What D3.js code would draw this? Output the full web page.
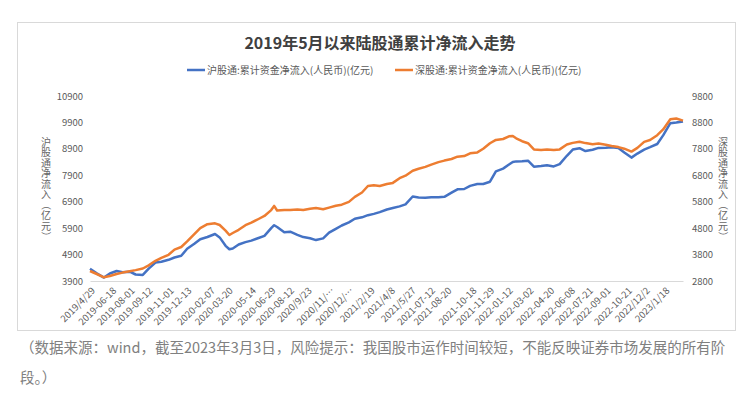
<!DOCTYPE html>
<html>
<head>
  <meta charset="utf-8"/>
  <title>陆股通累计净流入</title>
  <script src="https://cdn.jsdelivr.net/npm/d3@7"></script>
<style>
body { margin: 0; background: #fff; }
svg text { font-family: "Noto Sans CJK SC", "Noto Sans", sans-serif; }
.tick-label { fill: #595959; font-size: 9.5px; }
.axis-title { fill: #666; font-size: 10px; }
.caption { fill: #808080; font-size: 14.5px; }
</style>
</head>
<body>
<svg id="chart" width="745" height="393"></svg>
<script>
// sampled (semi-monthly + turning points) from the picture
var dates = [
  "2019-04-29","2019-05-15","2019-06-01","2019-06-15","2019-07-01","2019-07-15","2019-08-01","2019-08-15",
  "2019-09-01","2019-09-15","2019-10-01","2019-10-15","2019-11-01","2019-11-15","2019-12-01","2019-12-15",
  "2020-01-01","2020-01-15","2020-02-01","2020-02-19","2020-03-01","2020-03-15","2020-03-24","2020-04-01",
  "2020-04-15","2020-05-01","2020-05-15","2020-06-01","2020-06-15","2020-07-01","2020-07-08","2020-07-15",
  "2020-08-01","2020-08-15","2020-09-01","2020-09-15","2020-10-01","2020-10-15","2020-11-01","2020-11-15",
  "2020-12-01","2020-12-15","2021-01-01","2021-01-15","2021-02-01","2021-02-15","2021-03-01","2021-03-15",
  "2021-04-01","2021-04-15","2021-05-01","2021-05-15","2021-06-01","2021-06-15","2021-07-01","2021-07-15",
  "2021-08-01","2021-08-15","2021-09-01","2021-09-15","2021-10-01","2021-10-15","2021-11-01","2021-11-15",
  "2021-12-01","2021-12-15","2022-01-01","2022-01-15","2022-01-24","2022-02-01","2022-02-15","2022-03-01",
  "2022-03-15","2022-04-01","2022-04-15","2022-05-01","2022-05-15","2022-06-01","2022-06-15","2022-07-01",
  "2022-07-15","2022-08-01","2022-08-15","2022-09-01","2022-09-15","2022-10-01","2022-10-15","2022-11-01",
  "2022-11-15","2022-12-01","2022-12-15","2023-01-01","2023-01-15","2023-02-01","2023-02-15","2023-03-03"
];
var shValues = [
  4362,4191,4029,4184,4278,4233,4252,4146, 4131,4369,4596,4630,4702,4789,4854,5118,
  5308,5482,5565,5678,5550,5232,5100,5130, 5281,5372,5429,5527,5610,5898,6010,5943,
  5743,5766,5648,5561,5516,5448,5512,5728, 5875,6000,6121,6254,6310,6390,6439,6507,
  6606,6662,6723,6802,7097,7063,7052,7067, 7067,7086,7245,7370,7381,7499,7570,7570,
  7657,8047,8153,8305,8400,8426,8433,8452, 8225,8248,8282,8236,8320,8637,8872,8925,
  8815,8865,8936,8944,8959,8929,8762,8569, 8721,8872,8963,9084,9409,9871,9898,9935
];
var szValues = [
  3178,3065,2940,2989,3065,3118,3167,3212, 3273,3394,3564,3678,3791,3988,4087,4298,
  4578,4802,4949,4983,4919,4707,4541,4616, 4737,4911,5010,5146,5260,5483,5640,5468,
  5487,5487,5509,5487,5536,5562,5513,5577, 5646,5687,5793,5982,6149,6395,6425,6395,
  6470,6512,6690,6785,6974,7046,7117,7205, 7299,7356,7416,7503,7526,7632,7666,7802,
  8011,8139,8173,8275,8287,8200,8090,8014, 7780,7757,7780,7761,7780,7965,8026,8071,
  8018,7973,7999,7954,7908,7867,7806,7696, 7836,8064,8135,8317,8536,8919,8949,8866
];
var leftTicks = [3900, 4900, 5900, 6900, 7900, 8900, 9900, 10900];
var rightTicks = [2800, 3800, 4800, 5800, 6800, 7800, 8800, 9800];
var xTickDates = [
  "2019-04-29","2019-06-18","2019-08-01","2019-09-12","2019-11-01","2019-12-13","2020-02-07","2020-03-20",
  "2020-05-14","2020-06-29","2020-08-12","2020-09-23","2020-11-16","2020-12-31","2021-02-19","2021-04-08",
  "2021-05-27","2021-07-12","2021-08-20","2021-10-18","2021-11-29","2022-01-12","2022-03-02","2022-04-20",
  "2022-06-08","2022-07-21","2022-09-01","2022-10-21","2022-12-02","2023-01-18"
];
var xTickLabels = [
  "2019/4/29","2019-06-18","2019-08-01","2019-09-12","2019-11-01","2019-12-13","2020-02-07","2020-03-20",
  "2020-05-14","2020-06-29","2020-08-12","2020/9/23","2020/11/…","2020/12/…","2021/2/19","2021/4/8",
  "2021/5/27","2021-07-12","2021-08-20","2021-10-18","2021-11-29","2022-01-12","2022-03-02","2022-04-20",
  "2022-06-08","2022-07-21","2022-09-01","2022-10-21","2022/12/2","2023/1/18"
];
var seriesNames = ["沪股通:累计资金净流入(人民币)(亿元)", "深股通:累计资金净流入(人民币)(亿元)"];
var axisTitles = ["沪股通净流入（亿元）", "深股通净流入（亿元）"];
var colors = ["#4472c4", "#ed7d31"];

var parse = d3.timeParse("%Y-%m-%d");
var svg = d3.select("#chart");

var plotLeft = 90, plotRight = 683, plotTop = 96, plotBottom = 281;

var x = d3.scaleTime()
    .domain([parse("2019-04-29"), parse("2023-03-03")])
    .range([plotLeft, plotRight]);
var yL = d3.scaleLinear().domain([3900, 10900]).range([plotBottom, plotTop]);
var yR = d3.scaleLinear().domain([2800, 9800]).range([plotBottom, plotTop]);

// outer frame
svg.append("rect")
    .attr("x", 17.5).attr("y", 22.5)
    .attr("width", 718).attr("height", 308)
    .attr("fill", "none").attr("stroke", "#d9d9d9");

svg.append("text")
    .attr("x", 380).attr("y", 49)
    .attr("text-anchor", "middle")
    .attr("font-size", "16px").attr("font-weight", "bold")
    .attr("fill", "#404040")
    .text("2019年5月以来陆股通累计净流入走势");

// legend
var legendX = [187, 395];
seriesNames.forEach(function(name, i) {
  svg.append("line")
      .attr("x1", legendX[i]).attr("x2", legendX[i] + 18)
      .attr("y1", 70).attr("y2", 70)
      .attr("stroke", colors[i]).attr("stroke-width", 2.5);
  svg.append("text")
      .attr("x", legendX[i] + 20).attr("y", 73.5)
      .attr("font-size", "10px").attr("fill", "#595959")
      .text(name);
});

// y axes
var fmt = d3.format("d");
var gl = svg.append("g").attr("transform", "translate(" + plotLeft + ",0)")
    .call(d3.axisLeft(yL).tickValues(leftTicks).tickFormat(fmt).tickSize(0).tickPadding(7));
var gr = svg.append("g").attr("transform", "translate(" + plotRight + ",0)")
    .call(d3.axisRight(yR).tickValues(rightTicks).tickFormat(fmt).tickSize(0).tickPadding(9));
[gl, gr].forEach(function(g) {
  g.select(".domain").remove();
  g.selectAll("text").attr("class", "tick-label").attr("font-family", null);
});

// x axis
var gx = svg.append("g").attr("transform", "translate(0," + plotBottom + ")")
    .call(d3.axisBottom(x).tickValues(xTickDates.map(parse)).tickSize(0)
      .tickFormat(function(d, i) { return xTickLabels[i]; }));
gx.select(".domain").attr("stroke", "#d9d9d9");
gx.selectAll("text")
    .attr("class", "tick-label")
    .attr("font-family", null)
    .attr("text-anchor", "end")
    .attr("dy", "0.35em")
    .attr("y", 0)
    .attr("transform", "translate(3,8) rotate(-45)");

// vertical axis titles: one text, one upright glyph per row, brackets turned
var titleX = [46, 723];
axisTitles.forEach(function(t, k) {
  var txt = svg.append("text").attr("class", "axis-title").attr("text-anchor", "middle");
  Array.from(t).forEach(function(ch, i) {
    var cy = 142 + i * 10.5;
    var sp = txt.append("tspan").text(ch);
    if (ch === "（" || ch === "）") {
      sp.attr("x", titleX[k] + 1.2).attr("y", cy - 5).attr("rotate", 90);
    } else {
      sp.attr("x", titleX[k]).attr("y", cy + 3.5);
    }
  });
});

// lines
var series = [shValues, szValues];
var scales = [yL, yR];
series.forEach(function(vals, i) {
  var line = d3.line()
      .x(function(d, j) { return x(parse(dates[j])); })
      .y(function(d) { return scales[i](d); });
  svg.append("path")
      .datum(vals)
      .attr("d", line)
      .attr("fill", "none")
      .attr("stroke", colors[i])
      .attr("stroke-width", 2.5)
      .attr("stroke-linejoin", "round");
});

// caption
svg.append("text").attr("class", "caption")
    .attr("x", 20).attr("y", 353)
    .text("（数据来源：wind，截至2023年3月3日，风险提示：我国股市运作时间较短，不能反映证券市场发展的所有阶");
svg.append("text").attr("class", "caption")
    .attr("x", 20).attr("y", 383)
    .text("段。）");
</script>
</body>
</html>
